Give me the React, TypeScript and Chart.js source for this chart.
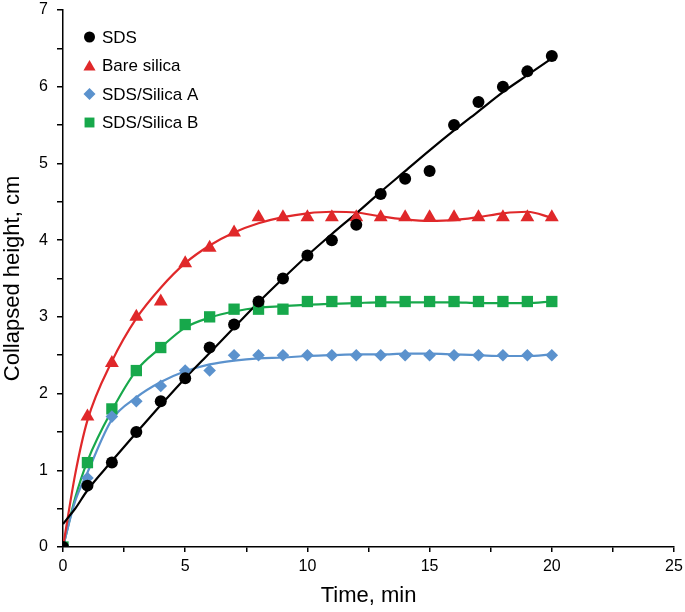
import React, { useEffect, useRef } from 'react';
import { Chart, registerables } from 'chart.js';

Chart.register(...registerables);

// ---- Data ----
const TIME = [0, 1, 2, 3, 4, 5, 6, 7, 8, 9, 10, 11, 12, 13, 14, 15, 16, 17, 18, 19, 20];
const SDS = [0, 0.8, 1.1, 1.5, 1.9, 2.2, 2.6, 2.9, 3.2, 3.5, 3.8, 4.0, 4.2, 4.6, 4.8, 4.9, 5.5, 5.8, 6.0, 6.2, 6.4];
const BARE_SILICA = [0, 1.7, 2.4, 3.0, 3.2, 3.7, 3.9, 4.1, 4.3, 4.3, 4.3, 4.3, 4.3, 4.3, 4.3, 4.3, 4.3, 4.3, 4.3, 4.3, 4.3];
const SDS_SILICA_A = [0, 0.9, 1.7, 1.9, 2.1, 2.3, 2.3, 2.5, 2.5, 2.5, 2.5, 2.5, 2.5, 2.5, 2.5, 2.5, 2.5, 2.5, 2.5, 2.5, 2.5];
const SDS_SILICA_B = [0, 1.1, 1.8, 2.3, 2.6, 2.9, 3.0, 3.1, 3.1, 3.1, 3.2, 3.2, 3.2, 3.2, 3.2, 3.2, 3.2, 3.2, 3.2, 3.2, 3.2];

// Fitted curves
const FIT_X_SDS = [0, 0.25, 0.5, 1, 2, 3, 4, 5, 6, 7, 8, 9, 10, 11, 12, 13, 14, 15, 16, 17, 18, 19, 20];
const FIT_SDS = [0.3, 0.4, 0.5, 0.74, 1.12, 1.49, 1.85, 2.2, 2.53, 2.86, 3.19, 3.5, 3.8, 4.08, 4.35, 4.63, 4.9, 5.17, 5.43, 5.68, 5.93, 6.15, 6.37];
const FIT_X = [0, 0.5, 1, 2, 3, 4, 5, 6, 7, 8, 9, 10, 11, 12, 13, 14, 15, 16, 17, 18, 19, 20];
const FIT_BARE = [0, 0.95, 1.65, 2.42, 2.98, 3.38, 3.7, 3.93, 4.1, 4.22, 4.3, 4.35, 4.37, 4.36, 4.31, 4.27, 4.25, 4.26, 4.3, 4.35, 4.37, 4.29];
const FIT_A = [0, 0.6, 0.97, 1.66, 1.95, 2.15, 2.29, 2.38, 2.43, 2.46, 2.47, 2.49, 2.5, 2.51, 2.51, 2.52, 2.52, 2.51, 2.5, 2.49, 2.49, 2.51];
const FIT_B = [0, 0.64, 1.12, 1.78, 2.3, 2.6, 2.86, 2.99, 3.07, 3.12, 3.14, 3.16, 3.17, 3.18, 3.19, 3.19, 3.19, 3.19, 3.18, 3.18, 3.18, 3.2];

const SERIES_NAMES = ['SDS', 'Bare silica', 'SDS/Silica A', 'SDS/Silica B'];
const COLORS = ['#000000', '#E0282A', '#5B92CD', '#17A84B'];
const X_TICK_STEP = 2.5;
const Y_TICK_STEP = 0.5;

const FONT = '"Liberation Sans", Arial, Helvetica, sans-serif';

const toPts = (xs: number[], ys: number[]) => xs.map((x, i) => ({ x, y: ys[i] }));

function drawMarker(ctx: CanvasRenderingContext2D, style: string, x: number, y: number, r: number, color: string) {
  ctx.save();
  ctx.fillStyle = color;
  ctx.beginPath();
  if (style === 'circle') {
    ctx.arc(x, y, r, 0, Math.PI * 2);
  } else if (style === 'triangle') {
    const s = r * Math.sqrt(3);
    ctx.moveTo(x, y - r);
    ctx.lineTo(x + s / 2, y + r / 2);
    ctx.lineTo(x - s / 2, y + r / 2);
    ctx.closePath();
  } else if (style === 'rectRot') {
    ctx.moveTo(x, y - r);
    ctx.lineTo(x + r, y);
    ctx.lineTo(x, y + r);
    ctx.lineTo(x - r, y);
    ctx.closePath();
  } else {
    const h = r * Math.SQRT1_2;
    ctx.rect(x - h, y - h, 2 * h, 2 * h);
  }
  ctx.fill();
  ctx.restore();
}

const insideLegend = {
  id: 'insideLegend',
  afterDraw(chart: any) {
    const ctx = chart.ctx as CanvasRenderingContext2D;
    const area = chart.chartArea;
    const styles = ['circle', 'triangle', 'rectRot', 'rect'];
    const radii = [5.5, 7, 6, 7];
    ctx.save();
    ctx.font = `17px ${FONT}`;
    ctx.textBaseline = 'middle';
    ctx.textAlign = 'left';
    SERIES_NAMES.forEach((name, i) => {
      const cy = area.top + 27 + i * 28.5;
      const mx = area.left + 26.5;
      drawMarker(ctx, styles[i], mx, cy + (styles[i] === 'triangle' ? 1.5 : 0), radii[i], COLORS[i]);
      ctx.fillStyle = '#000';
      ctx.fillText(name, area.left + 39, cy + 1);
    });
    ctx.restore();
  },
};

export default function App() {
  const ref = useRef<HTMLCanvasElement | null>(null);

  useEffect(() => {
    document.body.style.margin = '0';
    const canvas = ref.current;
    if (!canvas) return;

    const scatterSets = [SDS, BARE_SILICA, SDS_SILICA_A, SDS_SILICA_B];
    const fits = [
      toPts(FIT_X_SDS, FIT_SDS),
      toPts(FIT_X, FIT_BARE),
      toPts(FIT_X, FIT_A),
      toPts(FIT_X, FIT_B),
    ];
    const styles = ['circle', 'triangle', 'rectRot', 'rect'];
    const radii = [6, 8, 6.3, 8];

    const datasets: any[] = [];
    scatterSets.forEach((vals, i) => {
      datasets.push({
        label: SERIES_NAMES[i],
        data: toPts(TIME, vals),
        showLine: false,
        pointStyle: styles[i],
        pointRadius: radii[i],
        pointBackgroundColor: COLORS[i],
        pointBorderColor: COLORS[i],
        pointBorderWidth: 0,
        order: 0,
      });
    });
    fits.forEach((pts, i) => {
      datasets.push({
        label: SERIES_NAMES[i] + ' fit',
        data: pts,
        showLine: true,
        pointRadius: 0,
        borderColor: COLORS[i],
        borderWidth: 2.2,
        cubicInterpolationMode: 'monotone',
        fill: false,
        order: 1,
      });
    });

    const chart = new Chart(canvas, {
      type: 'scatter',
      data: { datasets },
      plugins: [insideLegend],
      options: {
        animation: false,
        responsive: false,
        devicePixelRatio: 1,
        layout: { padding: { top: 10, right: 11, left: 0, bottom: 0 } },
        plugins: {
          legend: { display: false },
          tooltip: { enabled: false },
        },
        scales: {
          x: {
            type: 'linear',
            min: 0,
            max: 25,
            border: { display: true, color: '#000', width: 1.5 },
            grid: { drawOnChartArea: false, drawTicks: true, tickLength: 5, color: '#000', lineWidth: 1.5 },
            ticks: {
              stepSize: X_TICK_STEP,
              color: '#000',
              padding: 5,
              maxRotation: 0,
              autoSkip: false,
              font: { size: 16, family: FONT },
              callback: (v: any) => (Number(v) % 5 === 0 ? String(v) : ''),
            },
            title: {
              display: true,
              text: 'Time, min',
              color: '#000',
              font: { size: 22, family: FONT },
              padding: { top: 0, bottom: 3 },
            },
            afterFit: (scale: any) => {
              scale.height = 65;
              scale.paddingLeft = 0;
              scale.paddingRight = 0;
            },
          },
          y: {
            type: 'linear',
            min: 0,
            max: 7,
            border: { display: true, color: '#000', width: 1.5 },
            grid: { drawOnChartArea: false, drawTicks: true, tickLength: 6, color: '#000', lineWidth: 1.5 },
            ticks: {
              stepSize: Y_TICK_STEP,
              color: '#000',
              padding: 9,
              autoSkip: false,
              font: { size: 16, family: FONT },
              callback: (v: any) => (Number(v) % 1 === 0 ? String(v) : ''),
            },
            title: {
              display: true,
              text: 'Collapsed height, cm',
              color: '#000',
              font: { size: 22, family: FONT },
              padding: { top: 0, bottom: 0 },
            },
            afterFit: (scale: any) => {
              scale.width = 63;
              scale.paddingTop = 0;
              scale.paddingBottom = 0;
            },
          },
        },
      } as any,
    });

    return () => chart.destroy();
  }, []);

  return (
    <div style={{ position: 'relative', width: 685, height: 612 }}>
      <canvas ref={ref} width={685} height={612} style={{ display: 'block', width: 685, height: 612 }} />
    </div>
  );
}
